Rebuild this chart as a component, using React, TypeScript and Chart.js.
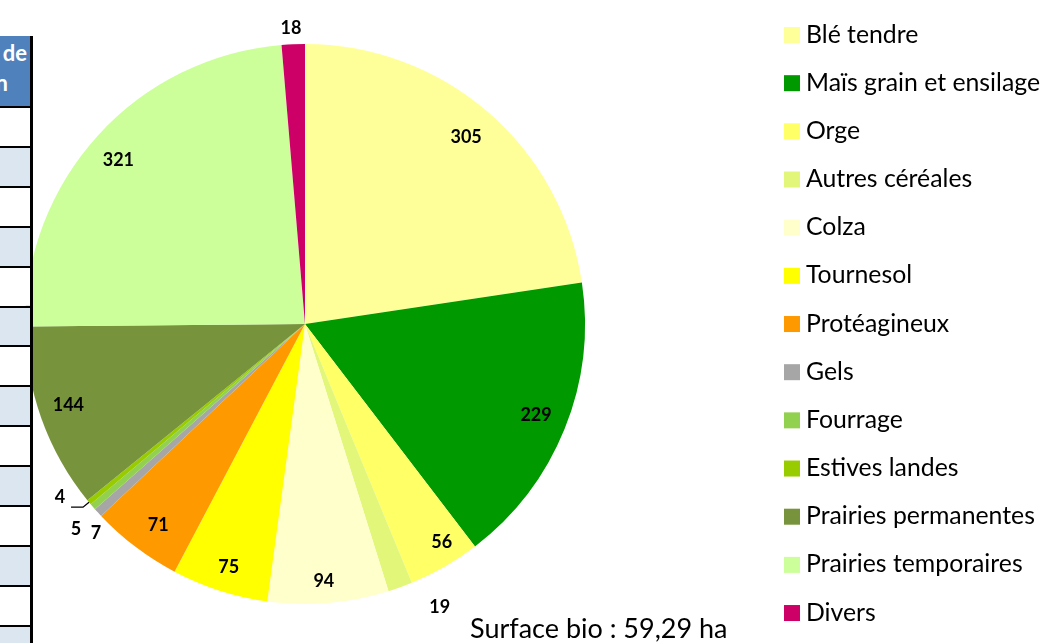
import React, { useEffect, useRef } from "react";
import { Chart, registerables } from "chart.js";

Chart.register(...registerables);

// ---- data ----
const categories = [
  "Blé tendre",
  "Maïs grain et ensilage",
  "Orge",
  "Autres céréales",
  "Colza",
  "Tournesol",
  "Protéagineux",
  "Gels",
  "Fourrage",
  "Estives landes",
  "Prairies permanentes",
  "Prairies temporaires",
  "Divers",
];
const values = [305, 229, 56, 19, 94, 75, 71, 7, 5, 4, 144, 321, 18];
const sliceColors = [
  "#FFFF99",
  "#009900",
  "#FFFF66",
  "#E2F77A",
  "#FFFFCC",
  "#FFFF00",
  "#FF9900",
  "#A6A6A6",
  "#92D050",
  "#99CC00",
  "#77933C",
  "#CCFF99",
  "#CC0066",
];
const surfaceText = "Surface bio : 59,29 ha";
const tableHeaderLines = ["de", "n"];

// ---- label placement (style): [radius factor, angle offset in degrees] ----
const labelPlacement: [number, number][] = [
  [0.882, 0],
  [0.886, -0.7],
  [0.918, -2.2],
  [1.118, -5.6],
  [0.918, 0.6],
  [0.907, -0.3],
  [0.886, -1],
  [1.054, -2.6],
  [1.096, -1],
  [1.071, 4.3],
  [0.893, 0.9],
  [0.889, -0.9],
  [1.061, -0.3],
];
const leaderIndex = 9;

const W = 1045;
const H = 643;

const overlayPlugin = {
  id: "overlay",
  afterDraw(chart: any) {
    const ctx = chart.ctx as CanvasRenderingContext2D;
    const meta = chart.getDatasetMeta(0);
    ctx.save();
    // data labels
    ctx.fillStyle = "#000";
    ctx.font = "bold 18px Lato";
    ctx.textAlign = "center";
    ctx.textBaseline = "alphabetic";
    meta.data.forEach((arc: any, i: number) => {
      const p = arc.getProps(["x", "y", "startAngle", "endAngle", "outerRadius"], true);
      const [f, off] = labelPlacement[i];
      const midRaw = (p.startAngle + p.endAngle) / 2;
      const mid = midRaw + (off * Math.PI) / 180;
      const r = p.outerRadius * f;
      const lx = p.x + Math.cos(mid) * r;
      const ly = p.y + Math.sin(mid) * r;
      ctx.fillText(String(chart.data.datasets[0].data[i]), lx, ly + 6.5);
      if (i === leaderIndex) {
        const ex = p.x + Math.cos(midRaw) * p.outerRadius;
        const ey = p.y + Math.sin(midRaw) * p.outerRadius;
        ctx.beginPath();
        ctx.strokeStyle = "#000";
        ctx.lineWidth = 1.3;
        ctx.moveTo(ex, ey);
        ctx.lineTo(ex - 6, ey + 5);
        ctx.lineTo(ex - 18, ey + 5);
        ctx.stroke();
      }
    });
    // legend
    const labels: string[] = chart.data.labels;
    const cols: string[] = chart.data.datasets[0].backgroundColor;
    ctx.textAlign = "left";
    ctx.font = "24.8px Lato";
    labels.forEach((lab, i) => {
      const cy = 35 + i * 48.17;
      ctx.fillStyle = cols[i];
      ctx.fillRect(784, cy - 8, 16, 16);
      ctx.fillStyle = "#000";
      ctx.fillText(lab, 806, cy + 7.5);
    });
    // surface annotation
    ctx.font = "27px Lato";
    ctx.fillStyle = "#000";
    ctx.fillText(surfaceText, 470, 638);
    ctx.restore();
  },
};

function SideTable() {
  const rows = [];
  for (let i = 0; i < 14; i++) {
    rows.push(
      <div
        key={i}
        style={{
          position: "absolute",
          left: 0,
          top: 106 + i * 39.9,
          width: 30,
          height: 39.9,
          boxSizing: "border-box",
          borderTop: "2px solid #000",
          background: i % 2 === 0 ? "#FFFFFF" : "#DCE6F1",
        }}
      />
    );
  }
  return (
    <div style={{ position: "absolute", left: 0, top: 0, width: 34, height: H, zIndex: 2, pointerEvents: "none" }}>
      <div
        style={{
          position: "absolute",
          left: 0,
          top: 36,
          width: 30,
          height: 70,
          background: "#4F81BD",
          overflow: "hidden",
        }}
      >
        <div
          style={{
            position: "absolute",
            right: 3,
            top: 2,
            color: "#fff",
            font: "bold 22px Lato",
            lineHeight: "30px",
            whiteSpace: "nowrap",
          }}
        >
          {tableHeaderLines[0]}
        </div>
        <div
          style={{
            position: "absolute",
            right: 22,
            top: 32,
            color: "#fff",
            font: "bold 22px Lato",
            lineHeight: "30px",
            whiteSpace: "nowrap",
          }}
        >
          {tableHeaderLines[1]}
        </div>
      </div>
      {rows}
      <div style={{ position: "absolute", left: 30, top: 36, width: 3, height: H - 36, background: "#000" }} />
    </div>
  );
}

export default function App() {
  const ref = useRef<HTMLCanvasElement | null>(null);
  useEffect(() => {
    if (!ref.current) return;
    const chart = new Chart(ref.current, {
      type: "pie",
      data: {
        labels: categories,
        datasets: [
          {
            data: values,
            backgroundColor: sliceColors,
            borderWidth: 0,
          },
        ],
      },
      options: {
        responsive: false,
        animation: false,
        layout: { padding: { left: 25, right: 460, top: 44, bottom: 39 } },
        plugins: { legend: { display: false }, tooltip: { enabled: false } },
      },
      plugins: [overlayPlugin],
    } as any);
    return () => chart.destroy();
  }, []);
  return (
    <div style={{ position: "absolute", left: 0, top: 0, width: W, height: H, background: "#fff", overflow: "hidden" }}>
      <canvas ref={ref} width={W} height={H} style={{ position: "absolute", left: 0, top: 0, width: W, height: H, display: "block" }} />
      <SideTable />
    </div>
  );
}
